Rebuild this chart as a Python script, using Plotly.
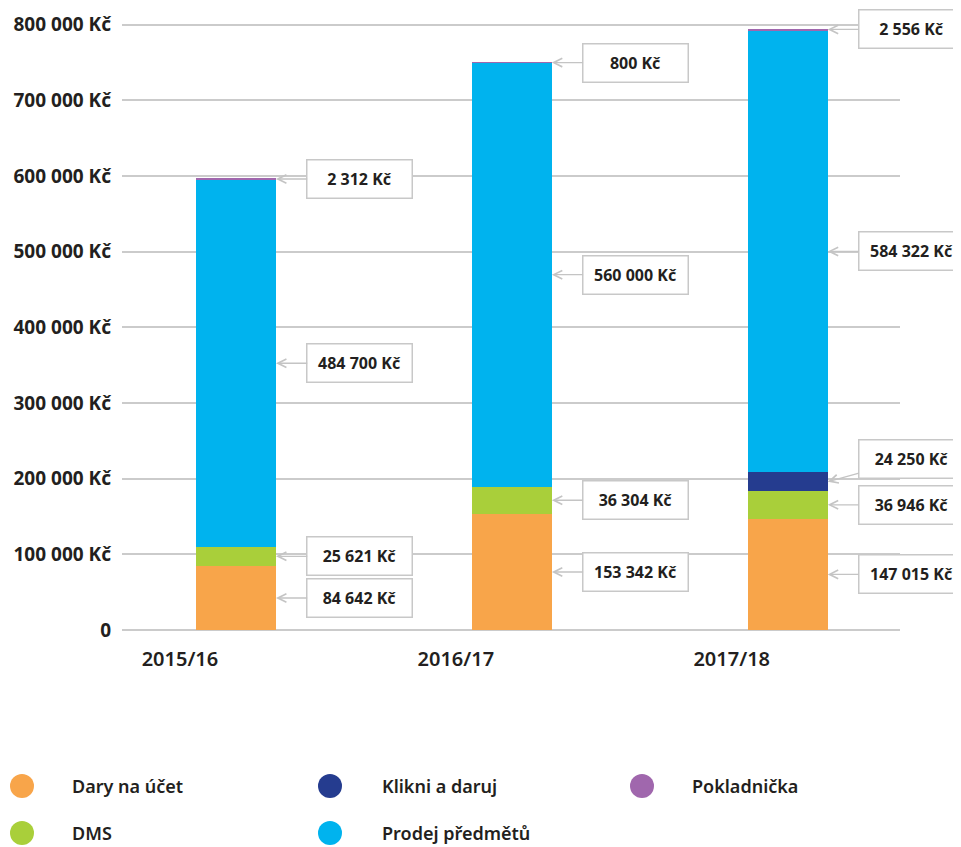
import plotly.graph_objects as go

# ---------------- data ----------------
categories = ["2015/16", "2016/17", "2017/18"]
series_names = ["Dary na účet", "DMS", "Klikni a daruj", "Prodej předmětů", "Pokladnička"]
dary_na_ucet = [84642, 153342, 147015]
dms = [25621, 36304, 36946]
klikni_a_daruj = [None, None, 24250]
prodej_predmetu = [484700, 560000, 584322]
pokladnicka = [2312, 800, 2556]
series_values = [dary_na_ucet, dms, klikni_a_daruj, prodej_predmetu, pokladnicka]
series_colors = ["#F8A54A", "#A9CF3A", "#253C8F", "#00B3EE", "#A067AD"]
y_tick_values = [0, 100000, 200000, 300000, 400000, 500000, 600000, 700000, 800000]
y_tick_labels = ["0", "100 000 Kč", "200 000 Kč", "300 000 Kč", "400 000 Kč",
                 "500 000 Kč", "600 000 Kč", "700 000 Kč", "800 000 Kč"]
legend_rows = 2

# ---------------- style ----------------
# page body has an 8px margin, so the figure starts 8px in from the window edge
W, H = 961, 839
M_L, M_R, M_T, M_B = 114, 69, 13, 217
TEXT = "#231F20"
GRID = "#CBCBCB"
FONT = "Noto Sans"
BAR_WIDTH = 0.29
BAR_OFFSET = 0.058
X_RANGE = [-0.21, 2.61]
Y_RANGE = [0, 805000]


def fmt(v):
    return "{:,}".format(v).replace(",", " ") + " Kč"


fig = go.Figure()
for name, vals, col in zip(series_names, series_values, series_colors):
    fig.add_trace(go.Bar(
        x=categories, y=vals, name=name,
        marker=dict(color=col, line=dict(width=0)),
        width=BAR_WIDTH, offset=BAR_OFFSET,
        showlegend=False, hoverinfo="x+y+name",
    ))

# ---------------- value callouts ----------------
annotations = []
for ci, cat in enumerate(categories):
    base = 0
    for si, vals in enumerate(series_values):
        v = vals[ci]
        if v is None:
            continue
        mid = base + v / 2
        base += v
        ay = -23 if series_names[si] == "Klikni a daruj" else 0
        annotations.append(dict(
            x=ci + BAR_OFFSET + BAR_WIDTH, y=mid, xref="x", yref="y",
            text=fmt(v), showarrow=True,
            ax=84, ay=ay, axref="pixel", ayref="pixel",
            arrowhead=5, arrowsize=1.3, arrowwidth=1.3, arrowcolor="#C4C4C4",
            bgcolor="white", bordercolor="#C8C8C8", borderwidth=1.5,
            borderpad=2, width=100, height=33,
            font=dict(family=FONT, size=16, color=TEXT, weight="bold"),
        ))

# ---------------- manual legend (circle symbols) ----------------
plot_w = W - M_L - M_R
plot_h = H - M_T - M_B


def px_x(px):
    return (px - M_L) / plot_w


def px_y(py):
    return (H - M_B - py) / plot_h


col_marker_x = [14, 322, 634]
col_text_x = [62, 372, 682]
row_y = [778, 825]
shapes = []
for i, (name, col) in enumerate(zip(series_names, series_colors)):
    c, r = divmod(i, legend_rows)
    shapes.append(dict(
        type="circle", xref="paper", yref="paper",
        xsizemode="pixel", ysizemode="pixel",
        xanchor=px_x(col_marker_x[c]), yanchor=px_y(row_y[r]),
        x0=-12, x1=12, y0=-12, y1=12,
        fillcolor=col, line=dict(width=0),
    ))
    annotations.append(dict(
        x=px_x(col_text_x[c]), y=px_y(row_y[r]), xref="paper", yref="paper",
        xanchor="left", yanchor="middle", showarrow=False, text=name,
        font=dict(family=FONT, size=18, color=TEXT, weight=600),
    ))

fig.update_layout(
    width=W, height=H,
    margin=dict(l=M_L, r=M_R, t=M_T, b=M_B),
    barmode="stack",
    plot_bgcolor="white", paper_bgcolor="white",
    font=dict(family=FONT, color=TEXT),
    annotations=annotations, shapes=shapes,
    showlegend=False,
)
fig.update_xaxes(
    type="category", range=X_RANGE, showgrid=False, showline=False, zeroline=False,
    ticks="", tickfont=dict(family=FONT, size=20, color=TEXT, weight=600),
    ticklabelstandoff=15, automargin=False,
)
fig.update_yaxes(
    range=Y_RANGE, tickvals=y_tick_values, ticktext=y_tick_labels,
    showgrid=True, gridcolor=GRID, gridwidth=1.5,
    zeroline=True, zerolinecolor=GRID, zerolinewidth=1.5,
    showline=False, ticks="",
    tickfont=dict(family=FONT, size=19, color=TEXT, weight="bold"),
    ticklabelstandoff=10, automargin=False,
)

fig.write_html("out.html")
